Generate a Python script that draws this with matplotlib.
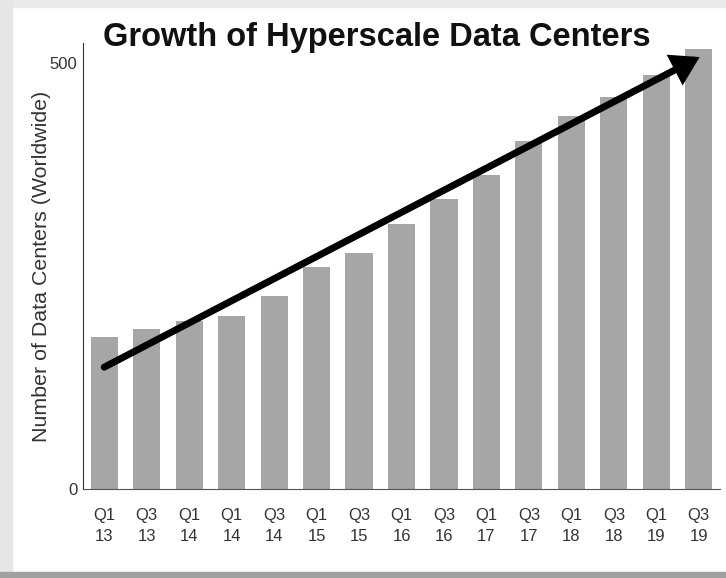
'''
Bar chart of hyperscale data center growth with a trend arrow
'''
import numpy as np
import matplotlib.pyplot as plt
from matplotlib.patches import FancyArrowPatch, Rectangle

quarters = ['Q1', 'Q3', 'Q1', 'Q1', 'Q3', 'Q1', 'Q3', 'Q1', 'Q3', 'Q1', 'Q3', 'Q1', 'Q3', 'Q1', 'Q3']
years = ['13', '13', '14', '14', '14', '15', '15', '16', '16', '17', '17', '18', '18', '19', '19']
centers = [178, 188, 197, 203, 227, 261, 277, 311, 340, 369, 408, 438, 460, 486, 516]
# trend arrow, start and end in data units
trend_x = [0, 14.02]
trend_y = [143, 507]

plt.rcParams['font.family'] = ['Liberation Sans', 'DejaVu Sans']

fig = plt.figure(figsize=(7.26, 5.78), dpi=100)
fig.patch.set_facecolor('white')
# grey photo frame round the chart
fig.patches.append(Rectangle((0, 1 - 7/578), 1, 7/578, transform=fig.transFigure, color='#e9e9e9', zorder=0))
fig.patches.append(Rectangle((0, 0), 12/726, 1, transform=fig.transFigure, color='#e6e6e6', zorder=0))
fig.patches.append(Rectangle((0, 0), 1, 6/578, transform=fig.transFigure, color='#a0a0a0', zorder=0))

ax = fig.add_axes([83/726, 1 - 489/578, (720 - 83)/726, (489 - 43)/578])
x = np.arange(len(centers))
ax.bar(x, centers, width=0.64, color='#a6a6a6', zorder=2)

arrow = FancyArrowPatch((trend_x[0], trend_y[0]), (trend_x[1], trend_y[1]),
                        arrowstyle='-|>,head_length=0.65,head_width=0.4', mutation_scale=20,
                        lw=5, color='black', capstyle='round', joinstyle='miter',
                        shrinkA=0, shrinkB=0, zorder=3)
ax.add_patch(arrow)

ax.set_xlim(-0.5, 14.5)
ax.set_ylim(0, 523.5)
ax.set_xticks(x)
ax.set_xticklabels([q + '\n' + y for q, y in zip(quarters, years)], linespacing=1.5)
ax.set_yticks([0, 500])
ax.tick_params(axis='x', length=0, pad=14, labelsize=12, labelcolor='#333333')
ax.tick_params(axis='y', length=0, pad=4, labelsize=12, labelcolor='#333333')
for s in ['top', 'right']:
    ax.spines[s].set_visible(False)
ax.spines['left'].set_color('#333333')
ax.spines['bottom'].set_color('#555555')
ax.set_ylabel('Number of Data Centers (Worldwide)', fontsize=15.4, color='#333333')
ax.yaxis.set_label_coords(-0.05, 0.5)

fig.text(0.519, 1 - 46/578, 'Growth of Hyperscale Data Centers', ha='center', va='baseline',
         fontsize=23.5, fontweight='bold', color='#111111')

plt.savefig('out.png', dpi=100)
